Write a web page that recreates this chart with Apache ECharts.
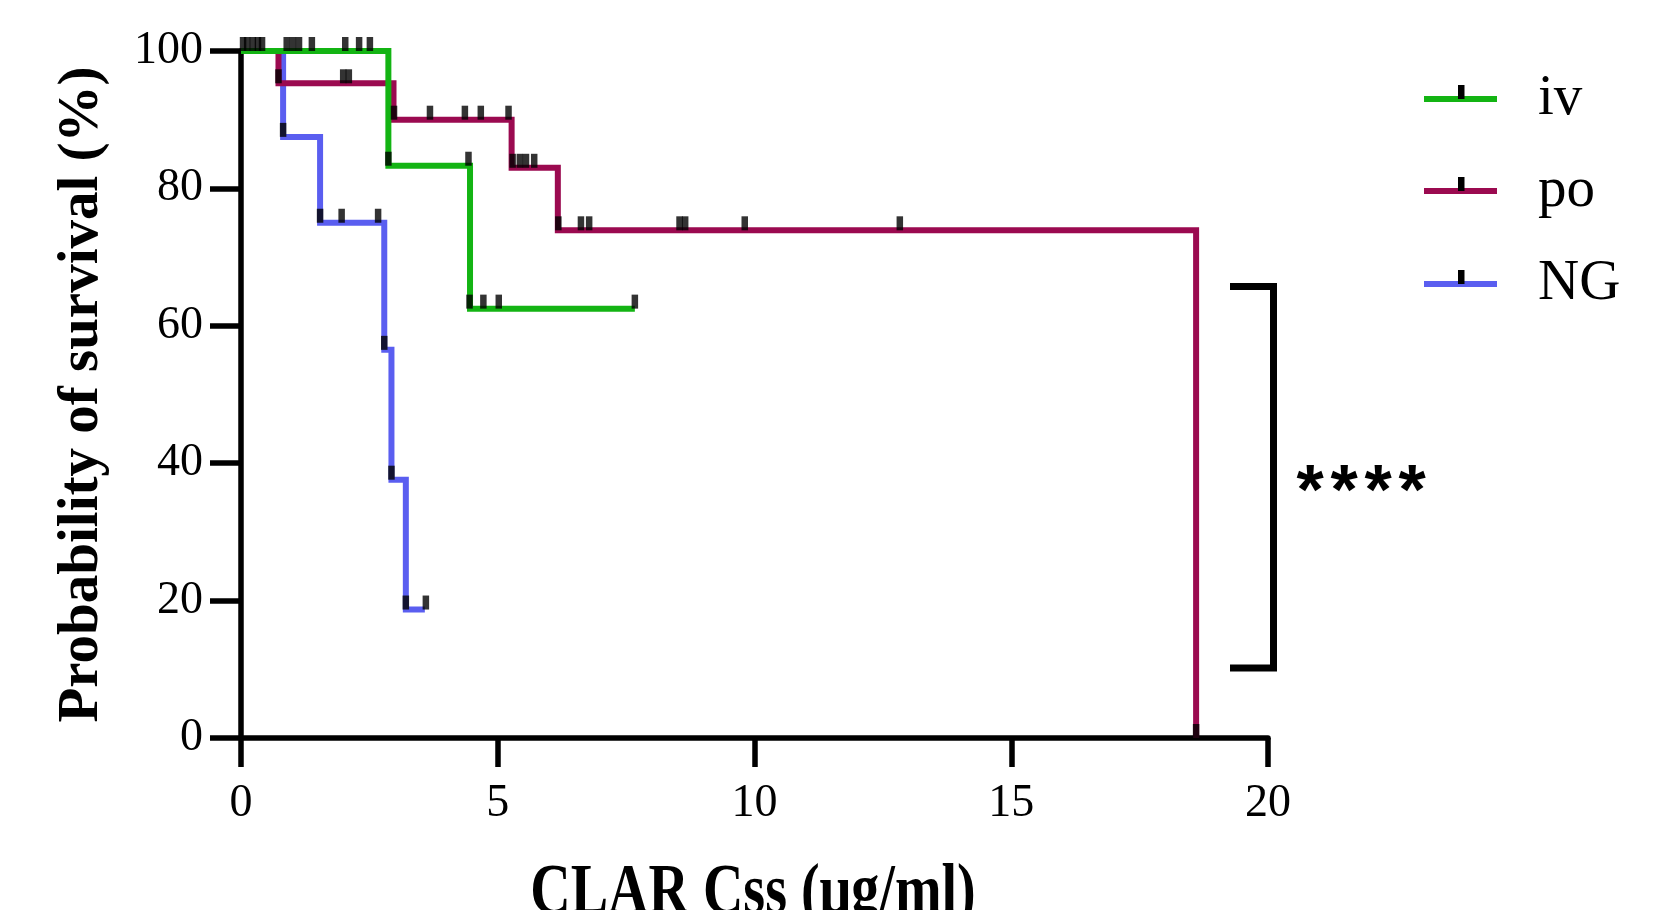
<!DOCTYPE html>
<html>
<head>
<meta charset="utf-8">
<title>CLAR Css survival</title>
<script src="https://cdn.jsdelivr.net/npm/echarts@6/dist/echarts.min.js"></script>
<style>
  html, body { margin: 0; padding: 0; background: #fff; }
  #chart { width: 1679px; height: 910px; }
</style>
</head>
<body>
<div id="chart"></div>
<script>
// Kaplan-Meier steps: time (µg/ml) where survival changes, and survival (%) after it
const ivTime = [0, 2.87, 4.46, 7.67];
const ivSurv = [100, 83.3, 62.5, 62.5];
const poTime = [0, 0.73, 2.97, 5.27, 6.17, 18.6];
const poSurv = [100, 95.3, 90.0, 83.0, 73.9, 0];
const ngTime = [0, 0.82, 1.54, 2.79, 2.93, 3.21, 3.58];
const ngSurv = [100, 87.5, 75.0, 56.5, 37.6, 18.7, 18.7];

// Censored observations
const ivCensorTime = [0.04, 0.23, 0.89, 1.01, 1.13, 1.38, 2.03, 2.30, 2.51, 2.87, 4.43, 4.45, 4.72, 5.02, 7.67];
const ivCensorSurv = [100, 100, 100, 100, 100, 100, 100, 100, 100, 83.3, 83.3, 62.5, 62.5, 62.5, 62.5];
const poCensorTime = [0.12, 0.33, 0.73, 1.99, 2.10, 2.98, 3.68, 4.36, 4.67, 5.21, 5.29, 5.43, 5.55, 5.71, 6.18, 6.62, 6.78, 8.54, 8.65, 9.81, 12.83, 18.6];
const poCensorSurv = [100, 100, 95.3, 95.3, 95.3, 90, 90, 90, 90, 90, 83, 83, 83, 83, 73.9, 73.9, 73.9, 73.9, 73.9, 73.9, 73.9, 0];
const ngCensorTime = [0.41, 0.82, 1.54, 1.96, 2.67, 2.79, 2.93, 3.21, 3.60];
const ngCensorSurv = [100, 87.5, 75, 75, 75, 56.5, 37.6, 18.7, 18.7];

const groupNames = ['iv', 'po', 'NG'];
const groupColors = ['#13b413', '#9b0a50', '#5a5ef0'];
const significance = '****';

const serif = "'Liberation Serif', 'Times New Roman', serif";
const pairs = (xs, ys) => xs.map((x, i) => [x, ys[i]]);

const chart = echarts.init(document.getElementById('chart'), null, { renderer: 'canvas' });

function stepSeries(name, color, xs, ys) {
  return {
    name: name, type: 'line', step: 'end', data: pairs(xs, ys),
    showSymbol: false, symbol: 'none', silent: true,
    lineStyle: { color: color, width: 6, cap: 'butt', join: 'miter' },
    z: 3
  };
}
function censorSeries(name, xs, ys) {
  return {
    name: name + ' censored', type: 'scatter', data: pairs(xs, ys),
    symbol: 'rect', symbolSize: [6.5, 14], symbolOffset: [0, -7],
    itemStyle: { color: '#000' }, silent: true, z: 5
  };
}

// Legend entries: coloured line with a censor tick, then the label
const legendY = [99, 191, 284];
const legendGraphics = [];
groupNames.forEach((name, i) => {
  const y = legendY[i];
  legendGraphics.push({
    type: 'line', shape: { x1: 1424, y1: y, x2: 1497, y2: y },
    style: { stroke: groupColors[i], lineWidth: 6 }
  });
  legendGraphics.push({
    type: 'rect', shape: { x: 1458, y: y - 14, width: 6.5, height: 14 },
    style: { fill: '#000' }
  });
  legendGraphics.push({
    type: 'text', x: 1538, y: y,
    style: { text: name, font: "57px " + serif, fill: '#000', textAlign: 'left', textVerticalAlign: 'middle' }
  });
});

// Significance bracket between groups
const bracket = {
  type: 'polyline',
  shape: { points: [[1230, 286.5], [1273.5, 286.5], [1273.5, 668], [1230, 668]] },
  style: { stroke: '#000', lineWidth: 7, fill: null, lineJoin: 'miter' }
};
const starX = [1310, 1344, 1378, 1412];
const stars = starX.map((x, i) => ({
  type: 'text', x: x, y: 495,
  style: { text: significance.charAt(i), font: "bold 70px 'Liberation Sans', Arial, sans-serif",
           fill: '#000', textAlign: 'center', textVerticalAlign: 'middle' }
}));

// X-axis title, drawn slightly tall
const xTitle = {
  type: 'text', x: 753, y: 858, scaleY: 1.3, originX: 0, originY: 0,
  style: { text: 'CLAR Css (μg/ml)', font: "bold 56px " + serif, fill: '#000',
           textAlign: 'center', textVerticalAlign: 'top' }
};

chart.setOption({
  animation: false,
  backgroundColor: '#fff',
  grid: { left: 241, top: 51, width: 1027, height: 687 },
  xAxis: {
    type: 'value', min: 0, max: 20, interval: 5,
    axisLine: { show: true, onZero: false, lineStyle: { color: '#000', width: 5.5 } },
    axisTick: { show: true, length: 29, lineStyle: { color: '#000', width: 5.5 } },
    axisLabel: { color: '#000', fontFamily: serif, fontSize: 46, margin: 43 },
    splitLine: { show: false }
  },
  yAxis: {
    type: 'value', min: 0, max: 100, interval: 20,
    name: 'Probability of survival (%)', nameLocation: 'middle', nameGap: 130,
    nameTextStyle: { color: '#000', fontFamily: serif, fontSize: 57, fontWeight: 'bold' },
    axisLine: { show: true, lineStyle: { color: '#000', width: 5.5 } },
    axisTick: { show: true, length: 31, lineStyle: { color: '#000', width: 5.5 } },
    axisLabel: { color: '#000', fontFamily: serif, fontSize: 46, margin: 38 },
    splitLine: { show: false }
  },
  series: [
    stepSeries(groupNames[2], groupColors[2], ngTime, ngSurv),
    stepSeries(groupNames[1], groupColors[1], poTime, poSurv),
    stepSeries(groupNames[0], groupColors[0], ivTime, ivSurv),
    censorSeries(groupNames[2], ngCensorTime, ngCensorSurv),
    censorSeries(groupNames[1], poCensorTime, poCensorSurv),
    censorSeries(groupNames[0], ivCensorTime, ivCensorSurv)
  ],
  graphic: legendGraphics.concat([bracket], stars, [xTitle])
});
</script>
</body>
</html>
